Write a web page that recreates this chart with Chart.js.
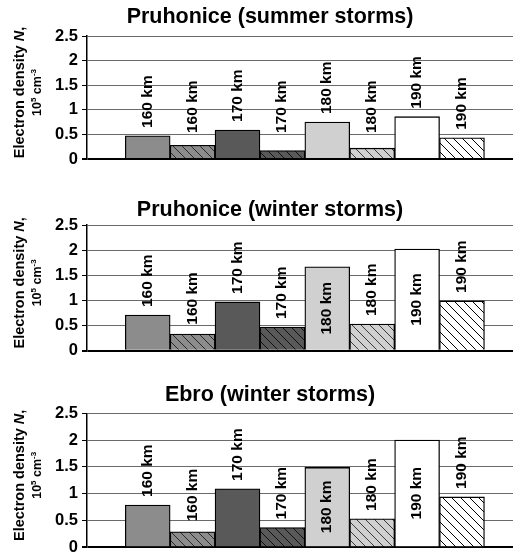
<!DOCTYPE html>
<html>
<head>
<meta charset="utf-8">
<script src="https://cdn.jsdelivr.net/npm/chart.js@4.4.1/dist/chart.umd.min.js"></script>
<style>
  html, body { margin: 0; padding: 0; background: #fff; overflow: hidden; }
  canvas { position: absolute; left: 0; }
</style>
</head>
<body>
<canvas id="c1" width="513" height="180" style="top:0px"></canvas>
<canvas id="c2" width="513" height="190" style="top:180px"></canvas>
<canvas id="c3" width="513" height="186" style="top:370px"></canvas>
<script>
// altitude of each bar (same order in every panel)
const heights = ["160 km", "160 km", "170 km", "170 km", "180 km", "180 km", "190 km", "190 km"];
// electron density, 10^5 cm^-3
const pruhoniceSummer = [0.47, 0.28, 0.59, 0.17, 0.75, 0.22, 0.86, 0.43];
const pruhoniceWinter = [0.71, 0.33, 0.97, 0.47, 1.67, 0.53, 2.02, 0.99];
const ebroWinter = [0.79, 0.29, 1.09, 0.37, 1.49, 0.53, 2.0, 0.94];
const yTicks = [0, 0.5, 1, 1.5, 2, 2.5];

const FONT = '"Liberation Sans", Arial, sans-serif';

function hatch(base, line) {
    const c = document.createElement("canvas");
    c.width = c.height = 9;
    const g = c.getContext("2d");
    g.fillStyle = base;
    g.fillRect(0, 0, 9, 9);
    g.strokeStyle = line;
    g.lineWidth = 1;
    g.beginPath();
    for (const k of [-9, 0, 9]) {
        g.moveTo(k - 1, -1);
        g.lineTo(k + 10, 10);
    }
    g.stroke();
    return g.createPattern(c, "repeat");
}

function barColors() {
    return [
        "#8c8c8c", hatch("#8c8c8c", "#2a2a2a"),
        "#595959", hatch("#595959", "#111111"),
        "#d0d0d0", hatch("#d0d0d0", "#3a3a3a"),
        "#ffffff", hatch("#ffffff", "#000000"),
    ];
}

const panelText = {
    id: "panelText",
    afterDatasetsDraw(chart, args, opts) {
        const ctx = chart.ctx;
        const area = chart.chartArea;
        const yScale = chart.scales.y;
        const zero = yScale.getPixelForValue(0);

        ctx.save();
        ctx.fillStyle = "#000";

        // title
        ctx.font = "bold 21.5px " + FONT;
        ctx.textAlign = "center";
        ctx.textBaseline = "middle";
        ctx.fillText(opts.title, opts.titleX, opts.titleY);

        // y axis title, two rotated lines
        const mid = (area.top + area.bottom) / 2 - 5;
        const parts1 = [
            ["Electron density ", "bold 14.5px " + FONT, 0],
            ["N", "italic bold 14.5px " + FONT, 0],
            [",", "bold 14.5px " + FONT, 0],
        ];
        const parts2 = [
            ["10", "bold 12.5px " + FONT, 0],
            ["5", "bold 8px " + FONT, -5],
            [" cm", "bold 12.5px " + FONT, 0],
            ["-3", "bold 8px " + FONT, -5],
        ];
        function rotLine(parts, x) {
            ctx.save();
            ctx.translate(x, mid);
            ctx.rotate(-Math.PI / 2);
            ctx.textAlign = "left";
            ctx.textBaseline = "alphabetic";
            let total = 0;
            parts.forEach(p => { ctx.font = p[1]; total += ctx.measureText(p[0]).width; });
            let px = -total / 2;
            parts.forEach(p => {
                ctx.font = p[1];
                ctx.fillText(p[0], px, p[2]);
                px += ctx.measureText(p[0]).width;
            });
            ctx.restore();
        }
        rotLine(parts1, 23.5);
        rotLine(parts2, 40.5);

        // bar labels
        ctx.font = "bold 15.5px " + FONT;
        ctx.textBaseline = "alphabetic";
        const meta = chart.getDatasetMeta(0);
        meta.data.forEach((bar, i) => {
            const v = chart.data.datasets[0].data[i].y;
            const text = heights[i];
            const w = ctx.measureText(text).width;
            let start;
            if (v > 1.4) {
                start = (bar.y + bar.base) / 2 + w / 2;
            } else {
                start = Math.min(bar.y - 8, zero - 26);
            }
            ctx.save();
            ctx.translate(bar.x + 4, start);
            ctx.rotate(-Math.PI / 2);
            ctx.textAlign = "left";
            ctx.fillText(text, 0, 0);
            ctx.restore();
        });
        ctx.restore();
    },
};

function makePanel(id, title, values, pad, titleY) {
    new Chart(document.getElementById(id), {
        type: "bar",
        data: {
            datasets: [
                {
                    data: values.map((v, i) => ({ x: i, y: v })),
                    backgroundColor: barColors(),
                    borderColor: "#000",
                    borderWidth: 1.3,
                    barPercentage: 1,
                    categoryPercentage: 1,
                },
            ],
        },
        options: {
            responsive: false,
            animation: false,
            devicePixelRatio: 1,
            layout: { padding: { top: pad[0], bottom: pad[1], left: 0, right: 0 } },
            scales: {
                x: {
                    type: "linear",
                    display: false,
                    offset: false,
                    grid: { offset: false },
                    min: -1.352,
                    max: 8.136,
                    afterBuildTicks: s => { s.ticks = heights.map((h, i) => ({ value: i })); },
                },
                y: {
                    min: 0,
                    max: 2.5,
                    afterBuildTicks: s => { s.ticks = yTicks.map(v => ({ value: v })); },
                    afterFit: s => { s.width = 87; s.paddingTop = 0; s.paddingBottom = 0; },
                    border: { display: true, color: "#000", width: 1.5 },
                    grid: {
                        color: c => (c.tick && c.tick.value === 0 ? "#000" : "#6a6a6a"),
                        lineWidth: c => (c.tick && c.tick.value === 0 ? 2 : 1),
                        tickColor: "#000",
                        tickLength: 5,
                    },
                    ticks: {
                        padding: 4,
                        color: "#000",
                        font: { family: FONT, size: 16.5, weight: "bold" },
                        callback: v => String(v),
                    },
                },
            },
            plugins: {
                legend: { display: false },
                tooltip: { enabled: false },
                panelText: { title: title, titleX: 270, titleY: titleY },
            },
        },
        plugins: [panelText],
    });
}

makePanel("c1", "Pruhonice (summer storms)", pruhoniceSummer, [36, 21], 17);
makePanel("c2", "Pruhonice (winter storms)", pruhoniceWinter, [45, 19.3], 30);
makePanel("c3", "Ebro (winter storms)", ebroWinter, [43.3, 8.7], 25);
</script>
</body>
</html>
